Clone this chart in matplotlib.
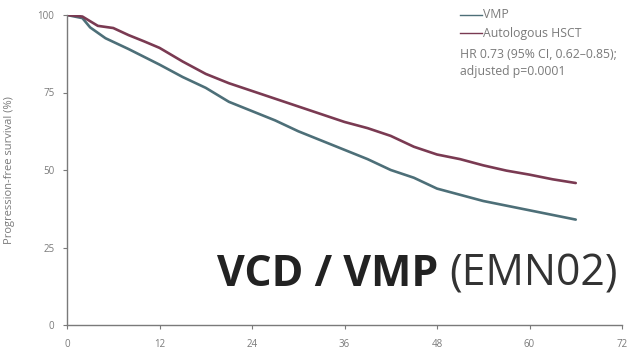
import matplotlib
matplotlib.use("Agg")
import matplotlib.pyplot as plt

# Kaplan-Meier style progression-free survival estimates (months, %)
months_asct = [0, 2, 4, 6, 8, 10, 12, 15, 18, 21, 24, 27, 30, 33, 36, 39, 42, 45, 48, 51, 54, 57, 60, 63, 66]
pfs_asct = [100, 99.5, 96.5, 95.8, 93.5, 91.5, 89.4, 85, 81, 78, 75.5, 73, 70.5, 68, 65.5, 63.5, 61, 57.5, 55, 53.5, 51.5, 49.8, 48.5, 47, 45.8]

months_vmp = [0, 2, 3, 5, 8, 10, 12, 15, 18, 21, 24, 27, 30, 33, 36, 39, 42, 45, 48, 51, 54, 57, 60, 63, 66]
pfs_vmp = [100, 99, 96, 92.5, 89, 86.5, 84, 80, 76.5, 72, 69, 66, 62.5, 59.5, 56.5, 53.5, 50, 47.5, 44, 42, 40, 38.5, 37, 35.5, 34]

x_ticks = [0, 12, 24, 36, 48, 60, 72]
y_ticks = [0, 25, 50, 75, 100]

series_labels = ["VMP", "Autologous HSCT"]
stats_lines = ["HR 0.73 (95% CI, 0.62\u20130.85);", "adjusted p=0.0001"]

plt.rcParams["font.family"] = ["Open Sans", "DejaVu Sans"]

fig = plt.figure(figsize=(6.3, 3.53), dpi=100)
ax = fig.add_axes([67 / 630, 28 / 353, 555 / 630, 310 / 353])

c_vmp = "#4d6f78"
c_asct = "#7a3a52"
grey = "#7a7a7a"

ax.plot(months_vmp, pfs_vmp, color=c_vmp, lw=1.9, solid_capstyle="round")
ax.plot(months_asct, pfs_asct, color=c_asct, lw=1.9, solid_capstyle="round")

ax.set_xlim(0, 72)
ax.set_ylim(0, 100)
ax.set_xticks(x_ticks)
ax.set_yticks(y_ticks)
ax.tick_params(colors=grey, labelsize=7, length=3, width=0.8)
ax.tick_params(axis="x", pad=7)
ax.tick_params(axis="y", pad=6)
for s in ["top", "right"]:
    ax.spines[s].set_visible(False)
for s in ["left", "bottom"]:
    ax.spines[s].set_color(grey)
    ax.spines[s].set_linewidth(1.0)
ax.set_ylabel("Progression-free survival (%)", fontsize=8, color=grey)
ax.yaxis.set_label_coords(-52 / 555, 0.5)

# legend block
fx = lambda px: px / 630
fy = lambda py: 1 - py / 353
legend_rows = [(15, c_vmp, series_labels[0]), (33, c_asct, series_labels[1])]
for py, col, lab in legend_rows:
    fig.add_artist(plt.Line2D([fx(460), fx(482)], [fy(py), fy(py)], color=col, lw=1.0))
    fig.text(fx(483), fy(py), lab, fontsize=8.8, color=grey, va="center", ha="left")
for py, line in zip([54, 72], stats_lines):
    fig.text(fx(460), fy(py), line, fontsize=8.8, color=grey, va="center", ha="left")

# study title
t1 = fig.text(fx(217), fy(274), "VCD / VMP ", fontsize=30.8, fontweight="bold", color="#222222",
              va="center", ha="left")
fig.canvas.draw()
bb = t1.get_window_extent()
fig.text(bb.x1 / 630, fy(274), "(EMN02)", fontsize=30.8, color="#333333", va="center", ha="left")

fig.savefig("out.png", dpi=100)
